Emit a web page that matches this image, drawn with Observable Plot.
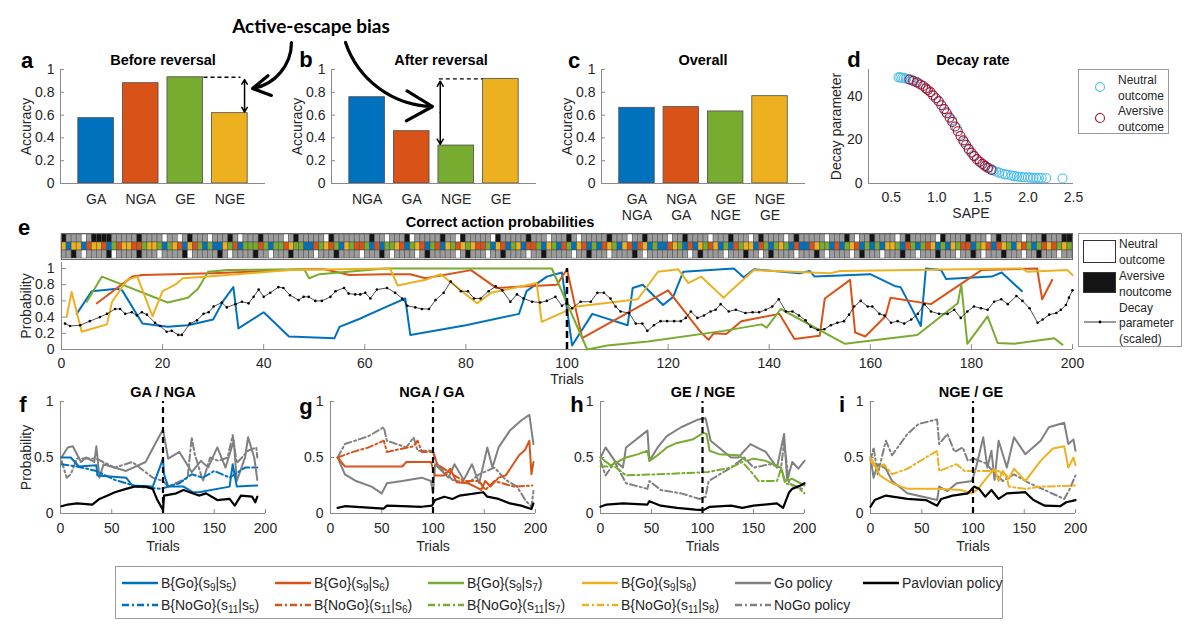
<!DOCTYPE html>
<html><head><meta charset="utf-8">
<script src="https://cdn.jsdelivr.net/npm/d3@7"></script>
<script src="https://cdn.jsdelivr.net/npm/@observablehq/plot@0.6"></script>
<style>
body{margin:0;background:#fff;}
#fig{position:relative;width:1200px;height:640px;overflow:hidden;font-family:'Liberation Sans',Arial,Helvetica,sans-serif;color:#262626;background:#fff;}
.c{position:absolute;transform:translate(-50%,-50%);white-space:nowrap;}
.let{font-weight:bold;font-size:22px;color:#000;}
.ttl{font-weight:bold;font-size:14.5px;color:#000;}
.box{position:absolute;border:1px solid #9a9a9a;background:#fff;box-sizing:border-box;}
.lt{position:absolute;transform:translateY(-50%);white-space:nowrap;font-size:12px;color:#262626;}
.bt{position:absolute;transform:translateY(-50%);white-space:nowrap;font-size:14px;color:#262626;}
.bt sub{font-size:10px;vertical-align:-3px;line-height:0;}
svg.ov{pointer-events:none;}
</style></head>
<body><div id="fig"></div>
<script>
// ---------- colours ----------
const BLUE = "#0072BD", ORANGE = "#D95319", GREEN = "#77AC30", YELLOW = "#EDB120";
const LBLUE = "#4DBEEE", DRED = "#A2142F", GREY = "#808080", AX = "#8a8a8a";
const barColors = [BLUE, ORANGE, GREEN, YELLOW];

// ---------- panels a-c : accuracy ----------
const accTicks = [0, 0.2, 0.4, 0.6, 0.8, 1];
const catsA = ["GA", "NGA", "GE", "NGE"];
const valsA = [0.573, 0.88, 0.932, 0.617];
const catsB = ["NGA", "GA", "NGE", "GE"];
const valsB = [0.757, 0.459, 0.333, 0.918];
const catsC = ["GA\nNGA", "NGA\nGA", "GE\nNGE", "NGE\nGE"];
const valsC = [0.664, 0.67, 0.632, 0.766];

// ---------- panel d : decay rate ----------
const sapeNeutral = [0.58,0.6,0.62,0.64,0.66,0.69,0.72,0.75,0.8,0.88,1.02,1.1,1.17,1.22,1.3,1.35,1.4,1.47,1.52,1.57,1.6,1.62,1.65,1.68,1.72,1.75,1.78,1.82,1.85,1.88,1.9,1.93,1.96,2.0,2.03,2.06,2.09,2.12,2.15,2.2,2.38];
const decayNeutral = [48.8,48.8,48.6,48.4,48.2,47.9,47.5,47,46,43.6,38,33,29,25.5,19,15.5,13,10,8.5,7.2,6.5,6,5.5,5,4.5,4.2,4,3.6,3.4,3.2,3.1,3,2.9,2.8,2.7,2.6,2.6,2.5,2.5,2.4,2.3];
const sapeAversive = [0.7,0.74,0.78,0.82,0.85,0.88,0.9,0.93,0.96,0.99,1.02,1.05,1.08,1.11,1.14,1.17,1.2,1.23,1.26,1.29,1.32,1.35,1.38,1.41,1.44,1.47,1.5,1.53,1.56,1.6];
const decayAversive = [47.8,47.2,46.5,45.5,44.8,43.8,43,42,40.5,39.2,37.8,36,34.2,32.3,30.3,28.3,26.2,24,21.8,19.8,17.8,15.9,14.2,12.6,11.2,10,9,8,7.2,6.2];

// ---------- panel e : correct action probabilities ----------
const eBlue = [[3,0.44],[6,0.72],[11,0.75],[12,0.73],[16,0.32],[21,0.28],[25,0.3],[30,0.37],[32,0.6],[34,0.77],[35,0.26],[40,0.46],[45,0.16],[54,0.14],[55,0.28],[59,0.38],[64,0.52],[68,0.63],[69,0.18],[80,0.3],[90.5,0.44],[92,0.72],[96,0.9],[99,0.95],[101,0.05],[105,0.44],[112,0.3],[113,0.76],[115,0.8],[119,0.55],[121,0.65],[123,0.96],[133,1.0],[135,0.89],[137,0.99],[146,0.94],[148,0.97],[149,0.9],[160,0.93],[165,0.78],[166,0.77],[170,0.29],[171,1.0],[174,0.98],[175,0.87],[184,0.9],[186,0.95],[190,0.72]];
const eOrange = [[7,0.57],[14,0.9],[16,0.92],[30,0.94],[48,0.99],[52,0.99],[57,0.92],[64,0.93],[69,0.93],[72,0.88],[81,0.98],[86,0.76],[98,0.8],[100,0.99],[103,0.14],[120,0.73],[126.5,0.21],[128,0.12],[129,0.2],[131.5,0.19],[134.5,0.35],[142,0.44],[145,0.13],[150,0.17],[151,0.63],[156,0.86],[157,0.21],[159,0.16],[163,0.41],[164,0.64],[172,0.56],[182,0.98],[193,1.0],[194,0.62],[196,0.86]];
const eGreen = [[5,0.59],[8,0.9],[21,0.58],[25,0.64],[27,0.75],[29,0.96],[33,0.98],[48,0.99],[49,0.88],[51,0.93],[55,0.95],[64,1.0],[97,1.0],[104,0.0],[108,0.05],[116,0.1],[131,0.23],[138.5,0.31],[139.5,0.27],[142.3,0.5],[155,0.07],[169.3,0.18],[177.3,0.57],[178,0.8],[179.2,0.07],[183.2,0.41],[185.2,0.08],[188.5,0.07],[196.4,0.14],[198,0.06]];
const eYellow = [[1,0.4],[2,0.71],[4,0.22],[9,0.31],[10,0.59],[13,0.86],[15,0.9],[18,0.41],[20,0.72],[22.5,0.8],[24,0.88],[29,0.9],[45,0.98],[65,1.0],[66.5,0.79],[72,0.86],[75,0.93],[82.2,0.57],[85,0.7],[94,0.82],[95,0.34],[100,0.48],[102,0.53],[114,0.62],[118,0.96],[122,0.99],[124,0.82],[126.5,0.9],[131,0.64],[132,0.7],[137,0.98],[152,0.94],[154,0.97],[190,1.0],[191,0.96],[199,0.98],[200,0.92]];
const eDecay = [[0.7,0.32],[1.7,0.29],[3.7,0.3],[5.6,0.35],[7.6,0.4],[9,0.44],[10.6,0.5],[11.6,0.5],[12.6,0.44],[13.9,0.46],[14.9,0.42],[15.9,0.46],[16.9,0.43],[18.5,0.33],[19.5,0.29],[20.8,0.22],[21.8,0.23],[23.1,0.18],[23.8,0.18],[25.4,0.32],[26.8,0.36],[28.1,0.44],[29.1,0.46],[30.1,0.53],[31.7,0.58],[32.7,0.52],[34.4,0.56],[35.7,0.59],[37,0.57],[38,0.65],[39,0.74],[40,0.65],[41.3,0.7],[42.9,0.77],[43.9,0.76],[45.2,0.67],[46.9,0.61],[47.9,0.65],[48.9,0.65],[50.2,0.6],[51.5,0.6],[53.2,0.65],[54.2,0.72],[55.9,0.76],[56.8,0.69],[58.1,0.68],[59.1,0.68],[60.1,0.7],[61.1,0.63],[62.4,0.74],[64.4,0.76],[66,0.7],[67.4,0.63],[68.4,0.54],[70,0.52],[71.3,0.5],[72.7,0.5],[74,0.61],[75.6,0.7],[77,0.84],[79,0.72],[80.4,0.72],[81.6,0.63],[82.9,0.63],[84.5,0.72],[85.9,0.78],[87.2,0.73],[88.8,0.59],[90.1,0.68],[91.4,0.63],[93.1,0.59],[94.7,0.58],[96,0.6],[97.7,0.65],[99,0.54],[100,0.58],[101,0.51],[102.7,0.59],[104.7,0.59],[106,0.7],[107.3,0.7],[108.6,0.63],[109.6,0.53],[110.6,0.47],[112.3,0.45],[113.6,0.32],[114.9,0.32],[115.9,0.23],[117.2,0.3],[118.5,0.35],[119.8,0.35],[121.2,0.35],[122.5,0.35],[123.5,0.39],[124.5,0.47],[125.8,0.39],[127.1,0.42],[128.4,0.47],[129.4,0.49],[130.4,0.56],[132,0.47],[133.4,0.49],[135.3,0.45],[136.7,0.46],[138,0.46],[139.3,0.49],[140.6,0.53],[141.9,0.62],[143.3,0.47],[144.6,0.47],[145.9,0.42],[147.2,0.36],[148.2,0.28],[149.6,0.24],[150.9,0.25],[152.2,0.3],[153.5,0.33],[154.8,0.35],[155.8,0.43],[156.8,0.53],[158.1,0.6],[159.5,0.53],[160.4,0.53],[161.8,0.44],[162.8,0.42],[164.1,0.33],[165.4,0.35],[166.7,0.32],[168.1,0.37],[169.4,0.44],[170.7,0.56],[172,0.47],[173.6,0.44],[175.3,0.44],[176.6,0.49],[177.9,0.39],[179.2,0.47],[180.5,0.53],[181.9,0.51],[183.2,0.49],[184.5,0.59],[185.9,0.62],[187.2,0.56],[188.9,0.66],[190.1,0.6],[191.5,0.51],[193.1,0.33],[194.1,0.37],[195.4,0.43],[196.8,0.45],[197.7,0.49],[198.7,0.55],[199.3,0.64],[200,0.73]];
const reversalTrial = 100;

// strip above panel e: k = aversive (black), w = neutral (white), s = grey; cue colours b/o/g/y
const stripTop    = "kssswskkkkssssskssss" + "wsswskssswssskswsssk" + "sssswskssssswkssssss" + "sksswssskwsssssksswk" + "ssssswkssssskssswsss" + "kswssssskssswsskssss" + "wssksssswssskssswsks" + "ssswskssssswssskswss" + "ksssswskssssswkssssk" + "ssswsksssswssskssskk";
const stripCue    = "ybyyboyyobgoyyoogyyg" + "bgyobyogbgbbygobgggo" + "gbggoyggbbogyogbygoo" + "gbobggyobgyobgobygoy" + "gyoogbyobgyboogbygbo" + "gbyobgboygbyoboybgbb" + "oygbobygoybgbogyybog" + "bgygbobboyggbobgyobg" + "bgbyygbogbgoybgbygoo" + "bgyoboygbyogbgoyogyg";
const stripBottom = "sskswsssskwssssksssw" + "sssskwssssskswssssks" + "swsssksssswssskssssw" + "ssskswsssswsksssssws" + "kssswssksssswsskssss" + "swsskssswsssskswssss" + "sssswsksssswssskssws" + "ksssswssskswsssswsks" + "sswsssksswssskssswss" + "kswssskssswsskssswss";

// ---------- panels f-i ----------
const fGo = [[1,0.5],[10,0.5],[18,0.42],[35,0.43],[36,0.34],[64,0.32],[70,0.25],[90,0.24],[100,0.49],[101,0.35],[105,0.24],[120,0.24],[129,0.19],[135,0.19],[165,0.24],[168,0.44],[172,0.24],[192,0.25]];
const fNoGo = [[1,0.44],[16,0.42],[35,0.38],[53,0.3],[75,0.24],[98,0.22],[116,0.27],[128,0.35],[139,0.32],[150,0.38],[165,0.32],[180,0.41],[192,0.41]];
const fGoPol = [[1,0.5],[7,0.59],[12,0.6],[20,0.46],[25,0.5],[33,0.46],[35,0.6],[38,0.32],[42,0.44],[64,0.38],[83,0.46],[94,0.65],[100,0.75],[105,0.49],[116,0.55],[128,0.37],[137,0.47],[144,0.41],[153,0.59],[161,0.41],[169,0.65],[172,0.29],[180,0.5],[183,0.68],[189,0.5],[192,0.3]];
const fNoGoPol = [[1,0.47],[6,0.32],[10,0.35],[16,0.49],[35,0.49],[53,0.41],[70,0.46],[90,0.32],[100,0.29],[105,0.24],[124,0.32],[128,0.68],[131,0.53],[139,0.29],[146,0.5],[154,0.47],[163,0.5],[168,0.7],[172,0.45],[183,0.56],[191,0.59],[192,0.5]];
const fPav = [[1,0.065],[7,0.08],[16,0.09],[31,0.08],[38,0.13],[46,0.16],[53,0.19],[64,0.22],[72,0.24],[83,0.24],[90,0.22],[94,0.13],[100,0.03],[101,0.16],[113,0.18],[120,0.21],[135,0.16],[142,0.18],[153,0.12],[165,0.13],[170,0.07],[176,0.16],[187,0.15],[190,0.1],[192,0.15]];

const gGo = [[7,0.5],[14,0.42],[70,0.42],[74,0.46],[98,0.46],[102,0.34],[111,0.34],[117,0.4],[123,0.28],[134,0.27],[141,0.24],[147,0.21],[151,0.29],[156,0.24],[164,0.32],[171,0.34],[184,0.52],[190,0.57],[194,0.65],[196,0.35],[198,0.46]];
const gNoGo = [[7,0.5],[22,0.55],[37,0.59],[52,0.65],[55,0.55],[81,0.6],[85,0.65],[89,0.55],[100,0.55],[104,0.44],[119,0.35],[130,0.29],[145,0.29],[151,0.21],[160,0.29],[179,0.24],[197,0.25]];
const gGoPol = [[7,0.5],[14,0.35],[25,0.29],[40,0.24],[50,0.18],[55,0.27],[70,0.29],[89,0.32],[98,0.29],[100,0.18],[102,0.44],[115,0.32],[121,0.44],[130,0.3],[138,0.44],[145,0.27],[153,0.59],[158,0.41],[164,0.59],[175,0.74],[186,0.83],[194,0.88],[198,0.62]];
const gNoGoPol = [[7,0.5],[14,0.62],[37,0.69],[52,0.77],[55,0.65],[74,0.59],[81,0.68],[85,0.56],[100,0.56],[104,0.44],[119,0.3],[134,0.27],[145,0.35],[160,0.41],[171,0.3],[182,0.24],[190,0.12],[196,0.06],[198,0.2]];
const gPav = [[7,0.05],[14,0.065],[52,0.044],[55,0.07],[70,0.065],[89,0.06],[99,0.07],[102,0.12],[111,0.15],[119,0.13],[126,0.16],[149,0.19],[153,0.15],[164,0.13],[175,0.09],[186,0.07],[196,0.04],[198,0.09]];

const hGo = [[0,0.5],[10,0.43],[25,0.5],[37,0.53],[46,0.56],[48,0.47],[56,0.52],[65,0.59],[75,0.63],[90,0.66],[101,0.72],[104,0.71],[107,0.56],[116,0.53],[135,0.52],[143,0.47],[150,0.49],[162,0.47],[177,0.41],[181,0.29],[188,0.31],[200,0.25]];
const hNoGo = [[0,0.42],[14,0.42],[25,0.34],[56,0.35],[105,0.37],[128,0.41],[139,0.46],[147,0.38],[155,0.29],[173,0.29],[177,0.4],[181,0.27],[192,0.24],[200,0.18]];
const hGoPol = [[0,0.5],[5,0.59],[14,0.47],[22,0.41],[25,0.59],[46,0.74],[48,0.47],[56,0.59],[65,0.69],[79,0.77],[96,0.84],[103,0.85],[108,0.65],[128,0.5],[135,0.5],[147,0.62],[162,0.55],[173,0.41],[180,0.71],[183,0.3],[188,0.46],[194,0.4],[200,0.47]];
const hNoGoPol = [[0,0.47],[5,0.34],[14,0.46],[25,0.27],[46,0.22],[48,0.29],[59,0.21],[79,0.18],[97,0.13],[103,0.15],[106,0.29],[128,0.41],[141,0.5],[150,0.41],[166,0.44],[177,0.41],[180,0.63],[185,0.27],[200,0.21]];
const hPav = [[0,0.06],[6,0.08],[22,0.09],[46,0.08],[48,0.11],[59,0.07],[75,0.05],[93,0.035],[101,0.03],[107,0.06],[128,0.07],[139,0.05],[150,0.07],[173,0.09],[179,0.05],[185,0.19],[188,0.22],[196,0.25],[200,0.27]];

const iGo = [[0,0.5],[4,0.44],[9,0.34],[21,0.27],[36,0.22],[65,0.22],[88,0.21],[99,0.18],[105,0.22],[110,0.28],[121,0.4],[125,0.29],[129,0.38],[135,0.31],[140,0.4],[151,0.29],[166,0.47],[178,0.58],[189,0.6],[193,0.41],[198,0.5],[200,0.43]];
const iNoGo = [[0,0.47],[6,0.4],[13,0.44],[21,0.35],[36,0.4],[65,0.56],[67,0.38],[84,0.44],[92,0.38],[100,0.38],[125,0.38],[133,0.32],[135,0.24],[151,0.22],[166,0.24],[200,0.25]];
const iGoPol = [[0,0.5],[3,0.32],[7,0.44],[15,0.4],[21,0.29],[36,0.18],[65,0.12],[67,0.24],[75,0.2],[84,0.27],[99,0.29],[103,0.41],[110,0.68],[114,0.41],[118,0.56],[121,0.3],[125,0.65],[133,0.41],[140,0.68],[151,0.53],[166,0.65],[174,0.77],[189,0.81],[193,0.62],[198,0.66],[200,0.56]];
const iNoGoPol = [[0,0.47],[3,0.59],[7,0.35],[15,0.65],[21,0.52],[36,0.71],[47,0.8],[65,0.84],[67,0.62],[75,0.71],[82,0.55],[90,0.59],[95,0.47],[101,0.49],[112,0.45],[129,0.29],[140,0.35],[155,0.27],[170,0.21],[189,0.13],[194,0.21],[200,0.34]];
const iPav = [[0,0.06],[4,0.12],[15,0.16],[36,0.13],[54,0.12],[65,0.07],[69,0.13],[80,0.16],[95,0.18],[101,0.24],[106,0.22],[112,0.15],[118,0.21],[125,0.13],[133,0.18],[151,0.19],[159,0.12],[170,0.07],[185,0.065],[191,0.1],[200,0.12]];

const trialTicks = [0, 50, 100, 150, 200];
const probTicks = [0, 0.5, 1];
const eXTicks = [0, 20, 40, 60, 80, 100, 120, 140, 160, 180, 200];
const eYTicks = [0, 0.2, 0.4, 0.6, 0.8, 1];

// ---------- helpers ----------
const fig = document.getElementById("fig");
const FONT = "'Liberation Sans', Arial, Helvetica, sans-serif";
const baseStyle = {fontFamily: FONT, fontSize: "14px", color: "#262626", background: "transparent", overflow: "visible"};
const DASHDOT = "7,3,2,3";
function put(node, left, top) { node.style.position = "absolute"; node.style.left = left + "px"; node.style.top = top + "px"; fig.appendChild(node); return node; }
function label(txt, x, y, cls) { const d = document.createElement("div"); d.className = "c " + cls; d.textContent = txt; d.style.left = x + "px"; d.style.top = y + "px"; fig.appendChild(d); return d; }
const X = d => d[0], Y = d => d[1];

// ---------- bar panels ----------
function barPanel(cats, vals, ml, mr, extra) {
  const idx = d3.range(cats.length);
  return Plot.plot({
    width: 280, height: 175, marginLeft: ml, marginRight: mr, marginTop: 24, marginBottom: 37,
    style: baseStyle,
    x: {domain: [-0.8, 3.8], axis: null},
    y: {domain: [0, 1], axis: null},
    color: {type: "identity"},
    marks: [
      Plot.rect(idx, {x1: i => i - 0.4, x2: i => i + 0.4, y1: 0, y2: i => vals[i], fill: i => barColors[i], stroke: "#4d4d4d", strokeWidth: 0.8}),
      Plot.ruleY([0], {stroke: AX}),
      Plot.ruleX([-0.8], {y1: 0, y2: 1, stroke: AX}),
      Plot.ruleY(accTicks, {x1: -0.8, x2: -0.71, stroke: AX}),
      Plot.axisY({ticks: accTicks, tickSize: 0, tickPadding: 6, tickFormat: d => String(d), label: "Accuracy", labelAnchor: "center", labelOffset: 39, labelArrow: "none"}),
      Plot.axisX({ticks: idx, tickSize: 0, tickPadding: 9, tickFormat: i => cats[i], label: null, lineHeight: 1.15}),
      ...extra
    ]
  });
}
function doubleArrow(x, yLow, yHigh) {
  const mid = (yLow + yHigh) / 2;
  return [
    Plot.arrow([0], {x1: x, x2: x, y1: mid, y2: yHigh, headLength: 6, strokeWidth: 1.5, stroke: "#000"}),
    Plot.arrow([0], {x1: x, x2: x, y1: mid, y2: yLow, headLength: 6, strokeWidth: 1.5, stroke: "#000"})
  ];
}
// annotation (a): gap between GE and NGE accuracies
put(barPanel(catsA, valsA, 60, 15, [
  Plot.ruleY([valsA[2]], {x1: 2.42, x2: 3.25, stroke: "#000", strokeWidth: 1.3, strokeDasharray: "4,3"}),
  ...doubleArrow(3.33, valsA[3] + 0.01, valsA[2] - 0.02)
]), 0, 45);
// annotation (b): gap between GE and NGE accuracies
put(barPanel(catsB, valsB, 61, 14, [
  Plot.ruleY([valsB[3]], {x1: 1.62, x2: 2.6, stroke: "#000", strokeWidth: 1.3, strokeDasharray: "4,3"}),
  ...doubleArrow(1.64, valsB[2] + 0.01, valsB[3] - 0.02)
]), 270, 45);
put(barPanel(catsC, valsC, 61, 15, []), 540, 45);

// ---------- panel d ----------
const neutralPts = sapeNeutral.map((s, i) => ({s, d: decayNeutral[i]}));
const aversivePts = sapeAversive.map((s, i) => ({s, d: decayAversive[i]}));
put(Plot.plot({
  width: 290, height: 175, marginLeft: 68, marginRight: 17, marginTop: 24, marginBottom: 37,
  style: baseStyle,
  x: {domain: [0.25, 2.5], axis: null},
  y: {domain: [0, 52.4], axis: null},
  marks: [
    Plot.ruleY([0], {stroke: AX}),
    Plot.ruleX([0.25], {stroke: AX}),
    Plot.dot(neutralPts, {x: "s", y: "d", r: 4.5, stroke: LBLUE, strokeWidth: 1.1}),
    Plot.dot(aversivePts, {x: "s", y: "d", r: 4.5, stroke: DRED, strokeWidth: 1.1}),
    Plot.axisY({ticks: [0, 20, 40], tickSize: 0, tickPadding: 6, label: "Decay parameter", labelAnchor: "center", labelOffset: 37, labelArrow: "none"}),
    Plot.axisX({ticks: [0.5, 1, 1.5, 2, 2.5], tickSize: 0, tickPadding: 9, label: "SAPE", labelAnchor: "center", labelOffset: 34, labelArrow: "none"})
  ]
}), 800, 45);

// ---------- strip ----------
const cellColor = {k: "#141414", w: "#ffffff", s: "#9b9b9b", b: BLUE, o: ORANGE, g: GREEN, y: YELLOW};
const stripCells = [];
[stripTop, stripCue, stripBottom].forEach((row, r) => {
  for (let i = 0; i < 200; i++) stripCells.push({t: i, row: r, c: cellColor[row[i]] || "#9b9b9b"});
});
put(Plot.plot({
  width: 1080, height: 26, marginLeft: 61, marginRight: 8, marginTop: 0, marginBottom: 0,
  style: baseStyle,
  x: {domain: [0, 200], axis: null},
  y: {type: "band", domain: [0, 1, 2], padding: 0, axis: null},
  color: {type: "identity"},
  marks: [
    Plot.barX(stripCells, {x1: "t", x2: d => d.t + 1, y: "row", fill: "c", stroke: "#4a4a4a", strokeWidth: 0.5}),
    Plot.frame({stroke: "#666"})
  ]
}), 0, 233);

// ---------- panel e ----------
put(Plot.plot({
  width: 1080, height: 130, marginLeft: 61, marginRight: 8, marginTop: 7, marginBottom: 36,
  style: baseStyle,
  x: {domain: [0, 200], axis: null},
  y: {domain: [0, 1.074], axis: null},
  marks: [
    Plot.ruleY([0], {stroke: AX}),
    Plot.ruleX([0], {stroke: AX}),
    Plot.ruleX(eXTicks.slice(1), {y1: 0, y2: 0.06, stroke: AX}),
    Plot.ruleY(eYTicks.slice(1), {x1: 0, x2: 1, stroke: AX}),
    Plot.line(eBlue, {x: X, y: Y, stroke: BLUE, strokeWidth: 2}),
    Plot.line(eOrange, {x: X, y: Y, stroke: ORANGE, strokeWidth: 2}),
    Plot.line(eGreen, {x: X, y: Y, stroke: GREEN, strokeWidth: 2}),
    Plot.line(eYellow, {x: X, y: Y, stroke: YELLOW, strokeWidth: 2}),
    Plot.line(eDecay, {x: X, y: Y, stroke: "#000", strokeWidth: 0.7}),
    Plot.dot(eDecay, {x: X, y: Y, r: 1.3, fill: "#000"}),
    Plot.ruleX([reversalTrial], {y1: 0, y2: 1, stroke: "#000", strokeWidth: 2.5, strokeDasharray: "7,4"}),
    Plot.axisY({ticks: eYTicks, tickSize: 0, tickPadding: 7, tickFormat: d => String(d), label: "Probability", labelAnchor: "center", labelOffset: 40, labelArrow: "none"}),
    Plot.axisX({ticks: eXTicks, tickSize: 0, tickPadding: 9, label: "Trials", labelAnchor: "center", labelOffset: 34, labelArrow: "none"})
  ]
}), 0, 255);

// ---------- panels f-i ----------
function trialPanel(col, go, nogo, goPol, nogoPol, pav, mr, withYLabel) {
  return Plot.plot({
    width: 270, height: 180, marginLeft: 60, marginRight: mr, marginTop: 21, marginBottom: 47,
    style: baseStyle,
    x: {domain: [0, 200], axis: null},
    y: {domain: [0, 1], axis: null},
    marks: [
      Plot.ruleY([0], {stroke: AX}),
      Plot.ruleX([0], {stroke: AX}),
      Plot.ruleX(trialTicks.slice(1), {y1: 0, y2: 0.035, stroke: AX}),
      Plot.ruleY(probTicks.slice(1), {x1: 0, x2: 4, stroke: AX}),
      Plot.line(goPol, {x: X, y: Y, stroke: GREY, strokeWidth: 2}),
      Plot.line(nogoPol, {x: X, y: Y, stroke: GREY, strokeWidth: 2, strokeDasharray: DASHDOT}),
      Plot.line(go, {x: X, y: Y, stroke: col, strokeWidth: 2}),
      Plot.line(nogo, {x: X, y: Y, stroke: col, strokeWidth: 2, strokeDasharray: DASHDOT}),
      Plot.line(pav, {x: X, y: Y, stroke: "#000", strokeWidth: 2.2}),
      Plot.ruleX([reversalTrial], {y1: 0, y2: 1, stroke: "#000", strokeWidth: 2.2, strokeDasharray: "6,4"}),
      Plot.axisY({ticks: probTicks, tickSize: 0, tickPadding: 7, tickFormat: d => String(d), label: withYLabel ? "Probability" : null, labelAnchor: "center", labelOffset: 39, labelArrow: "none"}),
      Plot.axisX({ticks: trialTicks, tickSize: 0, tickPadding: 10, label: "Trials", labelAnchor: "center", labelOffset: 37, labelArrow: "none"})
    ]
  });
}
put(trialPanel(BLUE, fGo, fNoGo, fGoPol, fNoGoPol, fPav, 5, true), 0, 380);
put(trialPanel(ORANGE, gGo, gNoGo, gGoPol, gNoGoPol, gPav, 5, false), 270, 380);
put(trialPanel(GREEN, hGo, hNoGo, hGoPol, hNoGoPol, hPav, 6, false), 540, 380);
put(trialPanel(YELLOW, iGo, iNoGo, iGoPol, iNoGoPol, iPav, 5, false), 810, 380);

// ---------- titles and panel letters ----------
const titles = [
  ["Before reversal", 163, 60], ["After reversal", 441, 60], ["Overall", 703, 60], ["Decay rate", 973, 60],
  ["Correct action probabilities", 500, 222],
  ["GA / NGA", 163, 392], ["NGA / GA", 432, 392], ["GE / NGE", 703, 392], ["NGE / GE", 971, 392]
];
titles.forEach(([t, x, y]) => label(t, x, y, "ttl"));
const letters = [["a", 27, 61], ["b", 306, 60], ["c", 574, 61], ["d", 854, 60], ["e", 24, 228], ["f", 23, 405], ["g", 306, 407], ["h", 577, 405], ["i", 842, 405]];
letters.forEach(([t, x, y]) => label(t, x, y, "let"));
const big = label("Active-escape bias", 311, 25, "");
big.style.fontFamily = "Lato, 'Open Sans', sans-serif"; big.style.fontWeight = "bold"; big.style.fontSize = "19px"; big.style.color = "#000";

// ---------- big curved arrows (page coordinates) ----------
const bigArrowA = [{x1: 291, y1: 42, x2: 252, y2: 88}];
const bigArrowB = [{x1: 345, y1: 42, x2: 432, y2: 106}];
const ov = Plot.plot({
  width: 1200, height: 640, margin: 0,
  style: {background: "transparent", overflow: "visible"},
  x: {domain: [0, 1200], range: [0, 1200], axis: null},
  y: {domain: [0, 640], range: [0, 640], axis: null},
  marks: [
    Plot.arrow(bigArrowA, {x1: "x1", y1: "y1", x2: "x2", y2: "y2", bend: 40, stroke: "#000", strokeWidth: 3.2, headLength: 14}),
    Plot.arrow(bigArrowB, {x1: "x1", y1: "y1", x2: "x2", y2: "y2", bend: -35, stroke: "#000", strokeWidth: 3.2, headLength: 14})
  ]
});
ov.classList.add("ov");
put(ov, 0, 0);

// ---------- legends ----------
function svgSample(w, h, inner) { return `<svg width="${w}" height="${h}" style="position:absolute;overflow:visible">${inner}</svg>`; }
// panel d legend
const dLeg = document.createElement("div"); dLeg.className = "box";
Object.assign(dLeg.style, {left: "1078px", top: "69px", width: "91px", height: "65px"});
dLeg.innerHTML =
  `<div style="position:absolute;left:16px;top:12px">${svgSample(12, 12, `<circle cx="5" cy="5" r="4.5" fill="none" stroke="${LBLUE}" stroke-width="1.1"/>`)}</div>` +
  `<div class="lt" style="left:39px;top:10px">Neutral</div><div class="lt" style="left:39px;top:26px">outcome</div>` +
  `<div style="position:absolute;left:16px;top:43px">${svgSample(12, 12, `<circle cx="5" cy="5" r="4.5" fill="none" stroke="${DRED}" stroke-width="1.1"/>`)}</div>` +
  `<div class="lt" style="left:39px;top:41px">Aversive</div><div class="lt" style="left:39px;top:57px">outcome</div>`;
fig.appendChild(dLeg);

// panel e legend
const eLeg = document.createElement("div"); eLeg.className = "box";
Object.assign(eLeg.style, {left: "1078px", top: "233px", width: "104px", height: "114px"});
eLeg.innerHTML =
  `<div style="position:absolute;left:4px;top:6px;width:33px;height:23px;border:1px solid #333;background:#fff;box-sizing:border-box"></div>` +
  `<div class="lt" style="left:40px;top:10px">Neutral</div><div class="lt" style="left:40px;top:26px">outcome</div>` +
  `<div style="position:absolute;left:4px;top:38px;width:33px;height:21px;border:1px solid #333;background:#141414;box-sizing:border-box"></div>` +
  `<div class="lt" style="left:40px;top:42px">Aversive</div><div class="lt" style="left:40px;top:58px">noutcome</div>` +
  `<div style="position:absolute;left:5px;top:88px">${svgSample(34, 2, `<line x1="0" y1="0" x2="32" y2="0" stroke="#000" stroke-width="0.8"/><circle cx="16" cy="0" r="1.4" fill="#000"/>`)}</div>` +
  `<div class="lt" style="left:40px;top:74px">Decay</div><div class="lt" style="left:40px;top:89px">parameter</div><div class="lt" style="left:40px;top:105px">(scaled)</div>`;
fig.appendChild(eLeg);

// bottom legend
const legendItems = [
  {row: 0, col: 0, color: BLUE, dash: null, html: "B{Go}(s<sub>9</sub>|s<sub>5</sub>)"},
  {row: 0, col: 1, color: ORANGE, dash: null, html: "B{Go}(s<sub>9</sub>|s<sub>6</sub>)"},
  {row: 0, col: 2, color: GREEN, dash: null, html: "B{Go}(s<sub>9</sub>|s<sub>7</sub>)"},
  {row: 0, col: 3, color: YELLOW, dash: null, html: "B{Go}(s<sub>9</sub>|s<sub>8</sub>)"},
  {row: 0, col: 4, color: GREY, dash: null, html: "Go policy"},
  {row: 0, col: 5, color: "#000", dash: null, html: "Pavlovian policy"},
  {row: 1, col: 0, color: BLUE, dash: DASHDOT, html: "B{NoGo}(s<sub>11</sub>|s<sub>5</sub>)"},
  {row: 1, col: 1, color: ORANGE, dash: DASHDOT, html: "B{NoGo}(s<sub>11</sub>|s<sub>6</sub>)"},
  {row: 1, col: 2, color: GREEN, dash: DASHDOT, html: "B{NoGo}(s<sub>11</sub>|s<sub>7</sub>)"},
  {row: 1, col: 3, color: YELLOW, dash: DASHDOT, html: "B{NoGo}(s<sub>11</sub>|s<sub>8</sub>)"},
  {row: 1, col: 4, color: GREY, dash: DASHDOT, html: "NoGo policy"}
];
const legColText = [45, 198, 351, 505, 658, 786];
const legRowY = [16, 38];
const bLeg = document.createElement("div"); bLeg.className = "box";
Object.assign(bLeg.style, {left: "115px", top: "566px", width: "888px", height: "53px"});
let inner = "";
legendItems.forEach(it => {
  const tx = legColText[it.col], y = legRowY[it.row];
  inner += `<div style="position:absolute;left:${tx - 39}px;top:${y}px">${svgSample(36, 2, `<line x1="0" y1="0" x2="36" y2="0" stroke="${it.color}" stroke-width="2.5" ${it.dash ? `stroke-dasharray="${it.dash}"` : ""}/>`)}</div>`;
  inner += `<div class="bt" style="left:${tx}px;top:${y}px">${it.html}</div>`;
});
bLeg.innerHTML = inner;
fig.appendChild(bLeg);
</script>
</body></html>
